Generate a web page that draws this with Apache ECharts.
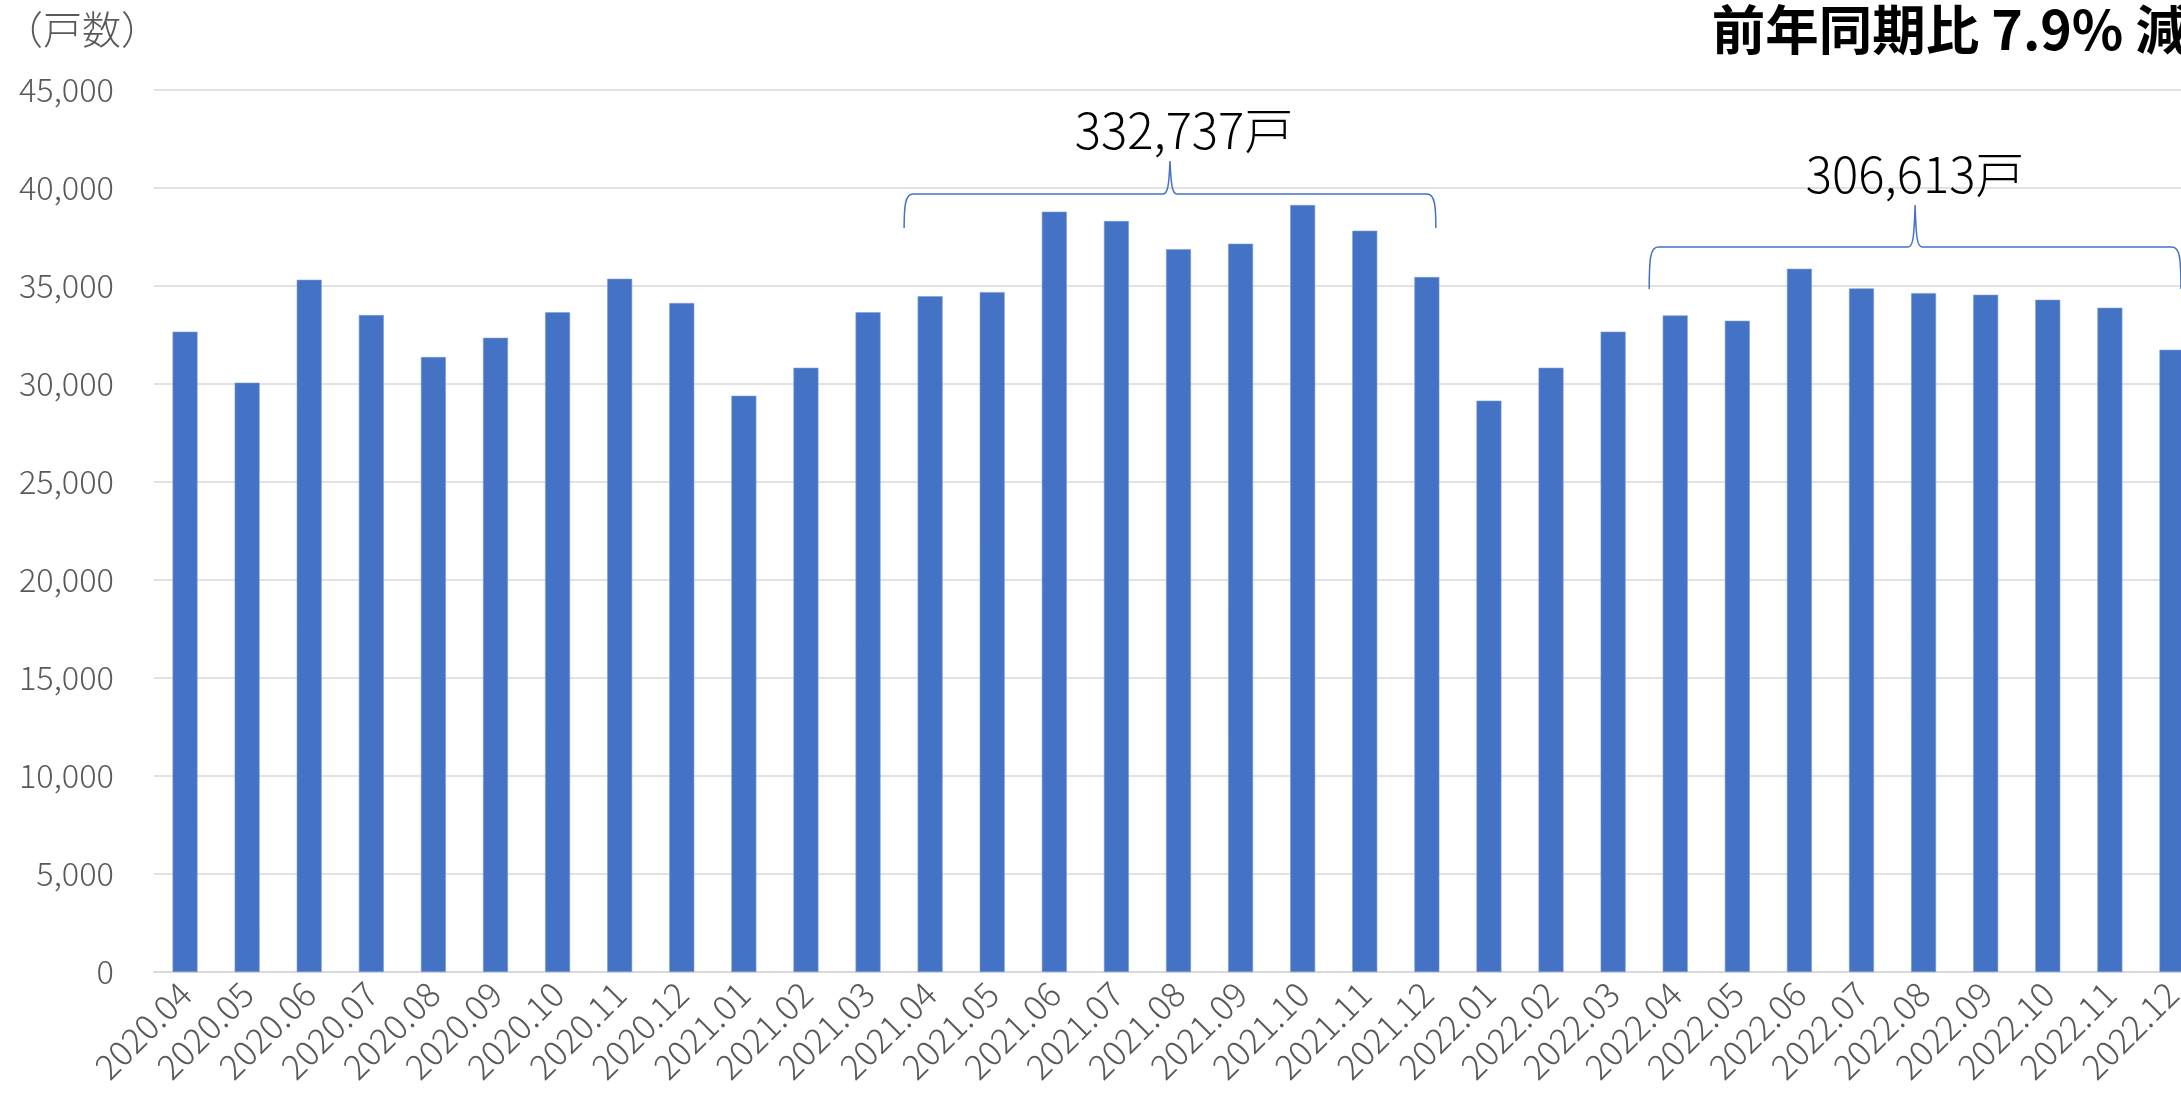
<!DOCTYPE html>
<html>
<head>
<meta charset="utf-8">
<script src="https://cdn.jsdelivr.net/npm/echarts@6/dist/echarts.min.js"></script>
<style>
html,body{margin:0;padding:0;background:#fff;}
#chart{width:2181px;height:1097px;}
</style>
</head>
<body>
<div id="chart"></div>
<script>
const categories = ['2020.04','2020.05','2020.06','2020.07','2020.08','2020.09','2020.10','2020.11','2020.12',
  '2021.01','2021.02','2021.03','2021.04','2021.05','2021.06','2021.07','2021.08','2021.09','2021.10','2021.11','2021.12',
  '2022.01','2022.02','2022.03','2022.04','2022.05','2022.06','2022.07','2022.08','2022.09','2022.10','2022.11','2022.12'];
const units = [32670,30070,35320,33520,31380,32360,33660,35370,34130,
  29400,30830,33660,34480,34690,38793,38316,36883,37160,39133,37823,35459,
  29150,30830,32670,33499,33227,35880,34877,34639,34554,34299,33890,31748];
const yTicks = {min:0, max:45000, interval:5000};
const braceStart = ['2021.04','2022.04'];
const braceEnd = ['2021.12','2022.12'];
const braceTotals = [332737, 306613];
const titleText = '前年同期比 7.9% 減';
const unitText = '（戸数）';

// annotation layout (value levels for brace parts)
const braceLayout = [
  {line:39694, end:37959, tip:41378},
  {line:36990, end:34847, tip:39133}
];

const braceData = braceStart.map((s,i)=>[categories.indexOf(s), categories.indexOf(braceEnd[i])]);
const FONT = "'Noto Sans CJK JP', 'Noto Sans', sans-serif";

const chart = echarts.init(document.getElementById('chart'));
chart.setOption({
  animation:false,
  backgroundColor:'#fff',
  grid:{left:154, top:90, width:2049, bottom:125, outerBoundsMode:'none', containLabel:false},
  xAxis:{
    type:'category', data:categories,
    axisTick:{show:false},
    axisLine:{lineStyle:{color:'#D9D9D9', width:2}},
    axisLabel:{interval:0, rotate:45, margin:16, color:'#595959', fontSize:34.5, fontFamily:FONT, fontWeight:300}
  },
  yAxis:{
    type:'value', min:yTicks.min, max:yTicks.max, interval:yTicks.interval,
    axisLine:{show:false}, axisTick:{show:false},
    splitLine:{lineStyle:{color:'#D9D9D9', width:1.5}},
    axisLabel:{margin:40, color:'#595959', fontSize:32.5, fontFamily:FONT, fontWeight:300,
      formatter:v=>v.toLocaleString('en-US')}
  },
  graphic:[
    {type:'text', left:4, top:10, style:{text:unitText, fill:'#595959', font:"300 39px "+FONT}},
    {type:'text', right:-8, top:3, style:{text:titleText, fill:'#000', font:"bold 53.5px "+FONT}}
  ],
  series:[
    {type:'bar', data:units, barWidth:25, itemStyle:{color:'#4472C4', borderColor:'#7E9DD6', borderWidth:0.6}},
    {type:'custom', data:braceData, z:5,
      renderItem:function(params, api){
        const i = params.dataIndex;
        const L = braceLayout[i];
        const xl = api.coord([api.value(0), 0])[0] - 26;
        const xr = api.coord([api.value(1), 0])[0] + 9;
        const xc = (xl+xr)/2;
        const yl = api.coord([0, L.line])[1];
        const yb = api.coord([0, L.end])[1];
        const yt = api.coord([0, L.tip])[1];
        const d = `M${xl},${yb} C${xl},${yl+12} ${xl+1},${yl} ${xl+9},${yl} L${xc-7},${yl} C${xc-2},${yl} ${xc-1},${yl-10} ${xc},${yt} C${xc+1},${yl-10} ${xc+2},${yl} ${xc+7},${yl} L${xr-9},${yl} C${xr-1},${yl} ${xr},${yl+12} ${xr},${yb}`;
        return {type:'group', children:[
          {type:'path', shape:{pathData:d}, style:{fill:null, stroke:'#4472C4', lineWidth:1.5}},
          {type:'text', x:xc+(i===0?14:0), y:yt-6, style:{text:braceTotals[i].toLocaleString('en-US')+'戸', fill:'#000', font:"300 49px "+FONT, align:'center', verticalAlign:'bottom'}}
        ]};
      }
    }
  ]
});
</script>
</body>
</html>
